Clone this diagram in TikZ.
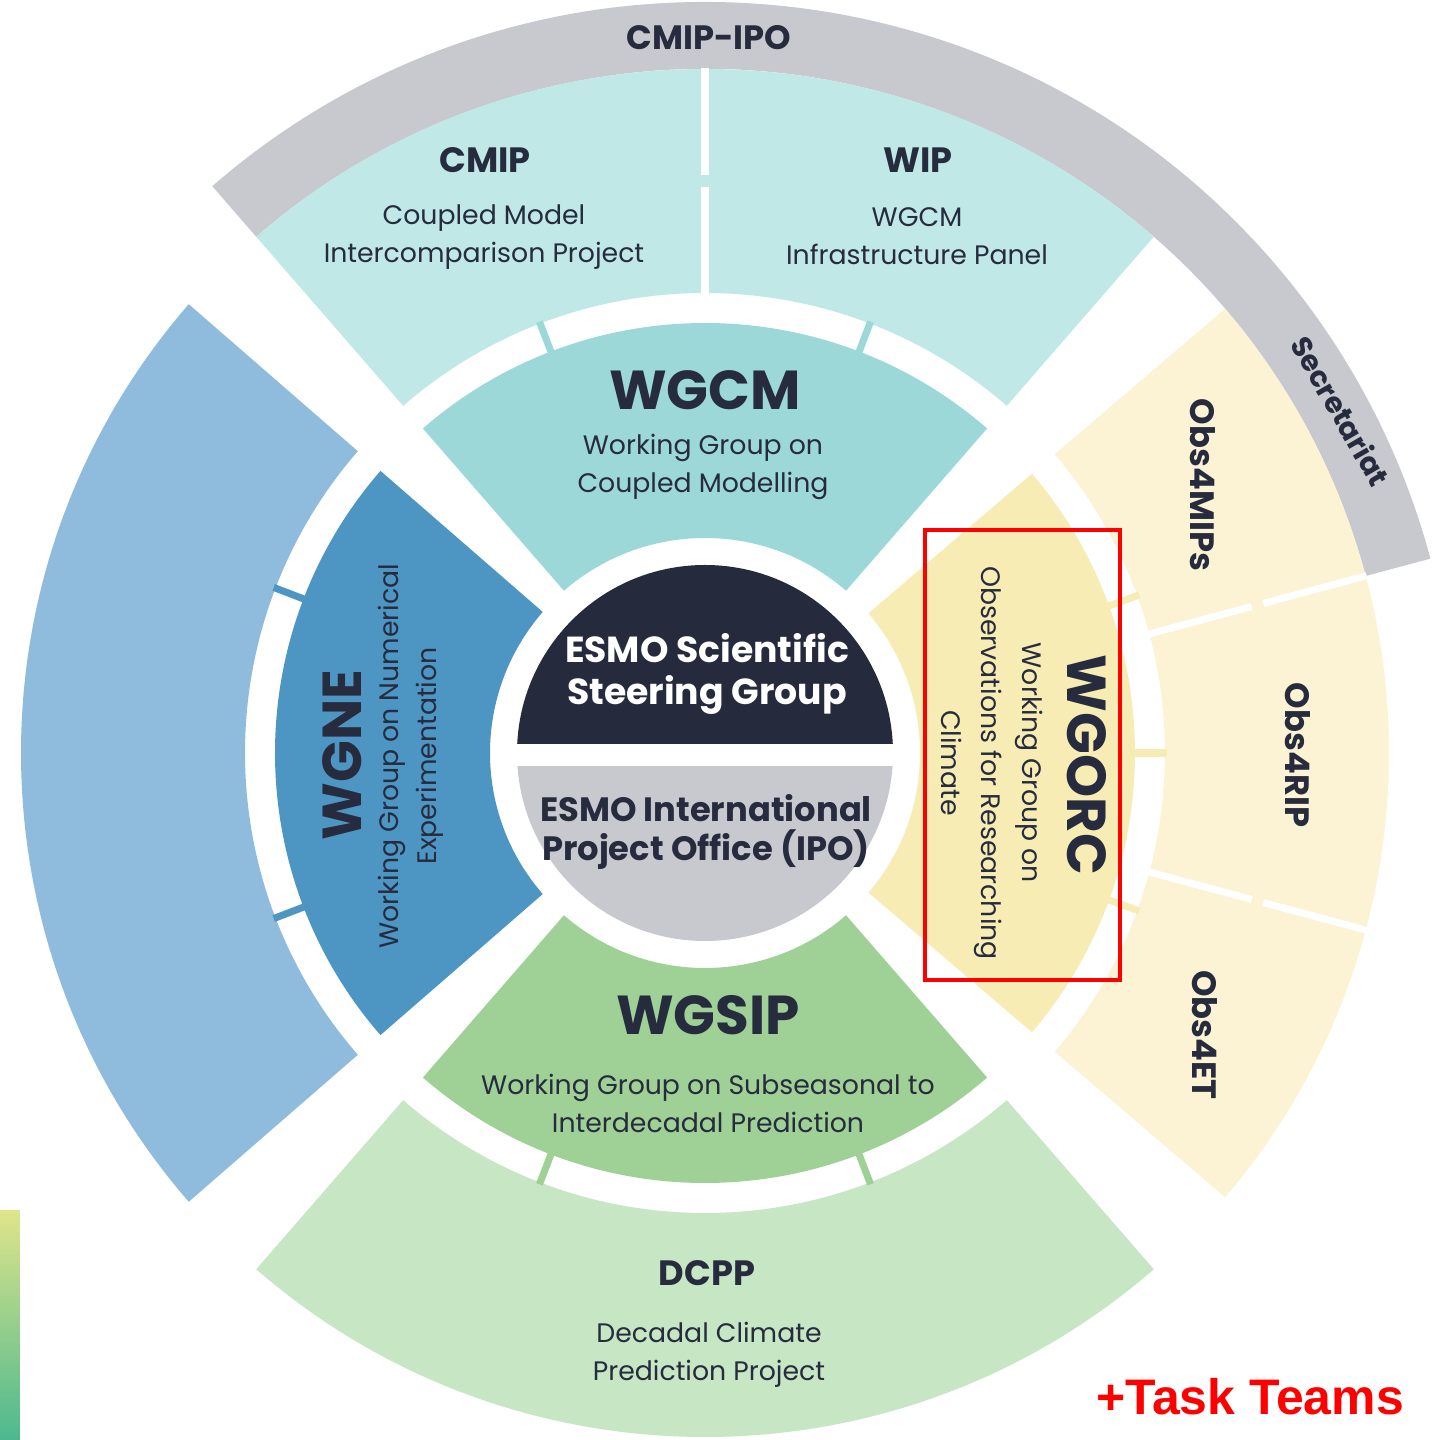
\documentclass[tikz,border=0pt]{standalone}
\usepackage{fontspec}
\setmainfont{Poppins}
\newfontfamily\arialfont{Liberation Sans}

\definecolor{ink}{HTML}{262B3D}
\definecolor{navy}{HTML}{252A3C}
\definecolor{grayband}{HTML}{C8C9CF}
\definecolor{cmipcol}{HTML}{BFE8E7}
\definecolor{wgcmcol}{HTML}{9DD8D9}
\definecolor{wgnecol}{HTML}{4D95C3}
\definecolor{lbluecol}{HTML}{8FBCDC}
\definecolor{wgsipcol}{HTML}{9FD196}
\definecolor{dcppcol}{HTML}{C6E6C4}
\definecolor{wgorccol}{HTML}{F6ECB4}
\definecolor{obscol}{HTML}{FBF3D3}
\definecolor{bartop}{HTML}{DFE58A}
\definecolor{barbot}{HTML}{4CB88F}

\begin{document}
\begin{tikzpicture}[x=0.01cm, y=0.01cm]
    \tikzstyle{every node}=[inner sep=0pt, align=center, text=ink]
    \tikzstyle{title}=[font=\bfseries\fontsize{10}{12}\selectfont]
    \tikzstyle{big}=[font=\bfseries\fontsize{15.6}{18}\selectfont]
    \tikzstyle{sub}=[font=\fontsize{7.6}{10.8}\selectfont]
    \tikzstyle{esmo}=[font=\bfseries\fontsize{10.3}{11.9}\selectfont]
    \tikzstyle{obs}=[font=\bfseries\fontsize{9.6}{12}\selectfont, rotate=-90]
    \tikzstyle{divider}=[white, line width=2pt]
    \tikzstyle{tick}=[line width=2pt]

    \fill[white] (-705,-687) rectangle (727,753);
    \useasboundingbox (-705,-687) rectangle (727,753);

    % outer ring
    \fill[grayband] (15:684) arc[start angle=15, end angle=131, radius=684] -- (131:751) arc[start angle=131, end angle=15, radius=751] -- cycle;
    \fill[cmipcol] (49:460) arc[start angle=49, end angle=131, radius=460] -- (131:684) arc[start angle=131, end angle=49, radius=684] -- cycle;
    \fill[lbluecol] (139:460) arc[start angle=139, end angle=221, radius=460] -- (221:684) arc[start angle=221, end angle=139, radius=684] -- cycle;
    \fill[dcppcol] (229:460) arc[start angle=229, end angle=311, radius=460] -- (311:684) arc[start angle=311, end angle=229, radius=684] -- cycle;
    \fill[obscol] (-40.5:460) arc[start angle=-40.5, end angle=40.5, radius=460] -- (40.5:684) arc[start angle=40.5, end angle=-40.5, radius=684] -- cycle;

    \draw[divider] (90:459) -- (90:566);
    \draw[divider] (90:578) -- (90:685);
    \draw[divider] (15:459) -- (15:566);
    \draw[divider] (15:578) -- (15:685);
    \draw[divider] (-15:459) -- (-15:566);
    \draw[divider] (-15:578) -- (-15:685);

    % inner ring
    \fill[wgcmcol] (49:215) arc[start angle=49, end angle=131, radius=215] -- (131:430) arc[start angle=131, end angle=49, radius=430] -- cycle;
    \fill[wgnecol] (139:215) arc[start angle=139, end angle=221, radius=215] -- (221:430) arc[start angle=221, end angle=139, radius=430] -- cycle;
    \fill[wgsipcol] (229:215) arc[start angle=229, end angle=311, radius=215] -- (311:430) arc[start angle=311, end angle=229, radius=430] -- cycle;
    \fill[wgorccol] (-40.5:215) arc[start angle=-40.5, end angle=40.5, radius=215] -- (40.5:430) arc[start angle=40.5, end angle=-40.5, radius=430] -- cycle;

    \draw[tick, wgcmcol] (69:428) -- (69:462);
    \draw[tick, wgcmcol] (111:428) -- (111:462);
    \draw[tick, wgnecol] (159:428) -- (159:462);
    \draw[tick, wgnecol] (201:428) -- (201:462);
    \draw[tick, wgsipcol] (249:428) -- (249:462);
    \draw[tick, wgsipcol] (291:428) -- (291:462);
    \draw[tick, wgorccol] (20:428) -- (20:462);
    \draw[tick, wgorccol] (0:428) -- (0:462);
    \draw[tick, wgorccol] (-20:428) -- (-20:462);

    % centre
    \begin{scope}
        \clip (0,0) circle[radius=188];
        \fill[navy] (-190,9) rectangle (190,190);
        \fill[grayband] (-190,-13) rectangle (190,-190);
    \end{scope}

    \shade[top color=bartop, bottom color=barbot] (-705,-457) rectangle (-685,-687);

    \node[font=\bfseries\fontsize{9.6}{12}\selectfont] (ipo) at (4,715) {CMIP-IPO};
    \node[title] (cmip) at (-220,593) {CMIP};
    \node[sub] (cmipsub) at (-221,516) {Coupled Model\\Intercomparison Project};
    \node[title] (wip) at (213,593) {WIP};
    \node[sub] (wipsub) at (212,517) {WGCM\\Infrastructure Panel};

    \node[big] (wgcm) at (0,363) {WGCM};
    \node[sub] (wgcmsub) at (-2,286) {Working Group on\\Coupled Modelling};

    \node[esmo, text=white] (ssg) at (2,79) {ESMO Scientific\\Steering Group};
    \node[esmo, font=\bfseries\fontsize{9.6}{11.2}\selectfont] (eipo) at (1,-79) {ESMO International\\Project Office (IPO)};

    \node[big] (wgsip) at (3,-262) {WGSIP};
    \node[sub] (wgsipsub) at (3,-350) {Working Group on Subseasonal to\\Interdecadal Prediction};

    \node[title] (dcpp) at (2,-520) {DCPP};
    \node[sub] (dcppsub) at (4,-602) {Decadal Climate\\Prediction Project};

    \node[big, rotate=90] (wgne) at (-363,-2) {WGNE};
    \node[sub, rotate=90] (wgnesub) at (-294,-3) {Working Group on Numerical\\Experimentation};

    \node[big, rotate=-90] (wgorc) at (382,-12) {WGORC};
    \node[sub, rotate=-90, font=\fontsize{7.6}{11.4}\selectfont] (wgorcsub) at (287,-10) {Working Group on\\Observations for Researching\\Climate};

    \node[obs] (obsmips) at (498,268) {Obs4MIPs};
    \node[obs] (obsrip) at (593,-2) {Obs4RIP};
    \node[obs] (obset) at (500,-282) {Obs4ET};
    \node[font=\bfseries\fontsize{8.2}{10}\selectfont, rotate=-60] (secr) at (636,342) {Secretariat};

    \draw[red, line width=1.2pt] (220,223) rectangle (415,-227);
    \node[font=\arialfont\bfseries\fontsize{14.2}{16}\selectfont, text=red] (tasks) at (545,-644) {+Task Teams};
\end{tikzpicture}
\end{document}
